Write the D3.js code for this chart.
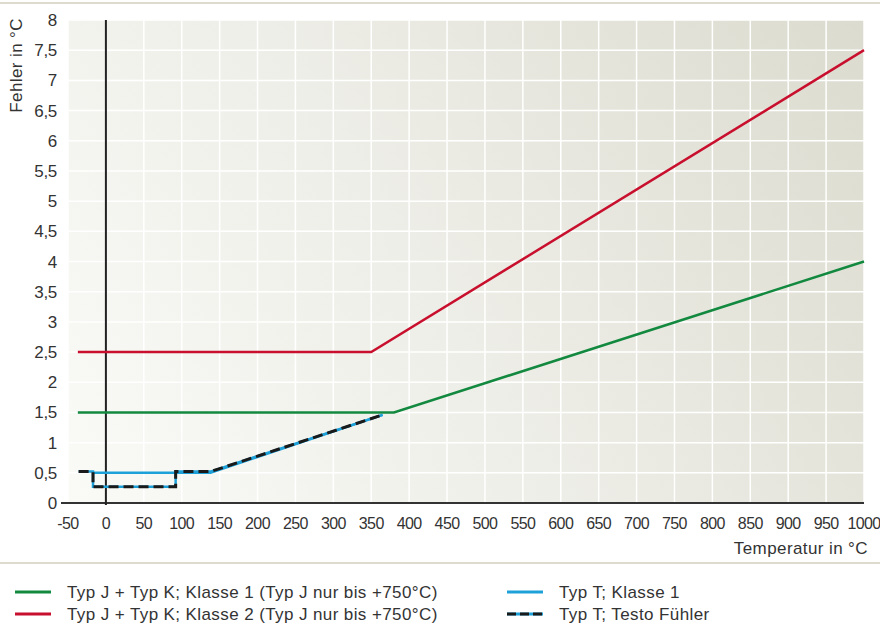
<!DOCTYPE html>
<html><head><meta charset="utf-8">
<script src="https://cdn.jsdelivr.net/npm/d3@7"></script>
<style>
html,body{margin:0;padding:0;background:#fff;}
svg text{font-family:"Liberation Sans",Arial,Helvetica,sans-serif;}
</style></head>
<body>
<svg id="chart" width="880" height="624"></svg>
<script>
// ---- data ----
const xTicks = [-50,0,50,100,150,200,250,300,350,400,450,500,550,600,650,700,750,800,850,900,950,1000];
const yTicks = [0,0.5,1,1.5,2,2.5,3,3.5,4,4.5,5,5.5,6,6.5,7,7.5,8];
const yTickLabels = ["0","0,5","1","1,5","2","2,5","3","3,5","4","4,5","5","5,5","6","6,5","7","7,5","8"];
const klasse1JK = [[-37,1.5],[380,1.5],[1000,4]];
const klasse2JK = [[-37,2.5],[350,2.5],[1000,7.5]];
const klasse1T = [[-17,0.5],[138,0.5],[365,1.46]];
const testoT = [[-36,0.52],[-17,0.52],[-17,0.27],[92,0.27],[92,0.52],[138,0.52],[365,1.46]];
const legendLabels = ["Typ J + Typ K; Klasse 1 (Typ J nur bis +750°C)","Typ J + Typ K; Klasse 2 (Typ J nur bis +750°C)","Typ T; Klasse 1","Typ T; Testo Fühler"];

const GREEN="#12893f", RED="#c8102e", BLUE="#1ea0d8", BLACK="#1a1a1a";

const svg = d3.select("#chart");
const L=68, R=864, T=20, B=503;
const x = d3.scaleLinear().domain([-50,1000]).range([L,R]);
const y = d3.scaleLinear().domain([0,8]).range([B,T]);

// top rule and separator
svg.append("rect").attr("x",0).attr("y",2).attr("width",880).attr("height",2).attr("fill","#dddbcd");
svg.append("rect").attr("x",0).attr("y",562).attr("width",880).attr("height",2).attr("fill","#dddbcd");

// gradient background
const defs = svg.append("defs");
const g = defs.append("linearGradient").attr("id","bg").attr("gradientUnits","userSpaceOnUse")
  .attr("x1",L).attr("y1",B).attr("x2",R).attr("y2",T);
g.append("stop").attr("offset","0").attr("stop-color","#fafaf7");
g.append("stop").attr("offset","0.45").attr("stop-color","#eeeee8");
g.append("stop").attr("offset","1").attr("stop-color","#dcdbcf");
svg.append("rect").attr("x",L).attr("y",T).attr("width",R-L).attr("height",B-T).attr("fill","url(#bg)");

// grid
const grid = svg.append("g");
grid.selectAll("line.v").data(xTicks).join("line")
  .attr("x1",d=>x(d)).attr("x2",d=>x(d)).attr("y1",T).attr("y2",B)
  .attr("stroke","#fff").attr("stroke-width",1.5);
grid.selectAll("line.h").data(yTicks).join("line")
  .attr("x1",L).attr("x2",R).attr("y1",d=>y(d)).attr("y2",d=>y(d))
  .attr("stroke","#fff").attr("stroke-width",1.5);

// axes lines
svg.append("line").attr("x1",61).attr("x2",R).attr("y1",y(0)).attr("y2",y(0)).attr("stroke","#333").attr("stroke-width",2);
svg.append("line").attr("x1",x(0)).attr("x2",x(0)).attr("y1",T).attr("y2",B+2).attr("stroke","#222").attr("stroke-width",2);

// tick labels
svg.append("g").selectAll("text").data(xTicks).join("text")
  .attr("x",d=>x(d)).attr("y",529).attr("text-anchor","middle")
  .attr("font-size",16).attr("fill","#333").attr("letter-spacing",-0.6).text(d=>d);
svg.append("g").selectAll("text").data(yTicks).join("text")
  .attr("x",57).attr("y",d=>y(d)+6).attr("text-anchor","end")
  .attr("font-size",17).attr("fill","#333").attr("letter-spacing",-0.3).text((d,i)=>yTickLabels[i]);

// axis titles
svg.append("text").attr("x",868).attr("y",554).attr("text-anchor","end")
  .attr("font-size",17).attr("fill","#333").attr("letter-spacing",0.4).text("Temperatur in °C");
svg.append("text").attr("transform","translate(22,18) rotate(-90)").attr("text-anchor","end")
  .attr("font-size",17).attr("fill","#333").attr("letter-spacing",0.4).text("Fehler in °C");

// lines
const line = d3.line().x(d=>x(d[0])).y(d=>y(d[1]));
const plot = svg.append("g");
plot.append("path").datum(klasse2JK).attr("d",line).attr("fill","none").attr("stroke",RED).attr("stroke-width",2.5);
plot.append("path").datum(klasse1JK).attr("d",line).attr("fill","none").attr("stroke",GREEN).attr("stroke-width",2.5);
plot.append("path").datum(klasse1T).attr("d",line).attr("fill","none").attr("stroke",BLUE).attr("stroke-width",2.5);
plot.append("path").datum(testoT).attr("d",line).attr("fill","none").attr("stroke",BLUE).attr("stroke-width",2.5);
plot.append("path").datum(testoT).attr("d",line).attr("fill","none").attr("stroke",BLACK).attr("stroke-width",3)
  .attr("stroke-dasharray","10,5");

// legend
const legItems = [
  {label:legendLabels[0], color:GREEN, x:15, y:592},
  {label:legendLabels[1], color:RED, x:15, y:614},
  {label:legendLabels[2], color:BLUE, x:507, y:592},
  {label:legendLabels[3], color:BLUE, x:507, y:614, dash:true}
];
const leg = svg.append("g");
legItems.forEach(it=>{
  leg.append("line").attr("x1",it.x).attr("x2",it.x+36).attr("y1",it.y).attr("y2",it.y)
    .attr("stroke",it.color).attr("stroke-width",3);
  if(it.dash){
    leg.append("line").attr("x1",it.x).attr("x2",it.x+36).attr("y1",it.y).attr("y2",it.y)
      .attr("stroke",BLACK).attr("stroke-width",3).attr("stroke-dasharray","9,4");
  }
  leg.append("text").attr("x",it.x+52).attr("y",it.y+6).attr("font-size",17).attr("fill","#333")
    .attr("letter-spacing",0.4).text(it.label);
});
</script>
</body></html>
